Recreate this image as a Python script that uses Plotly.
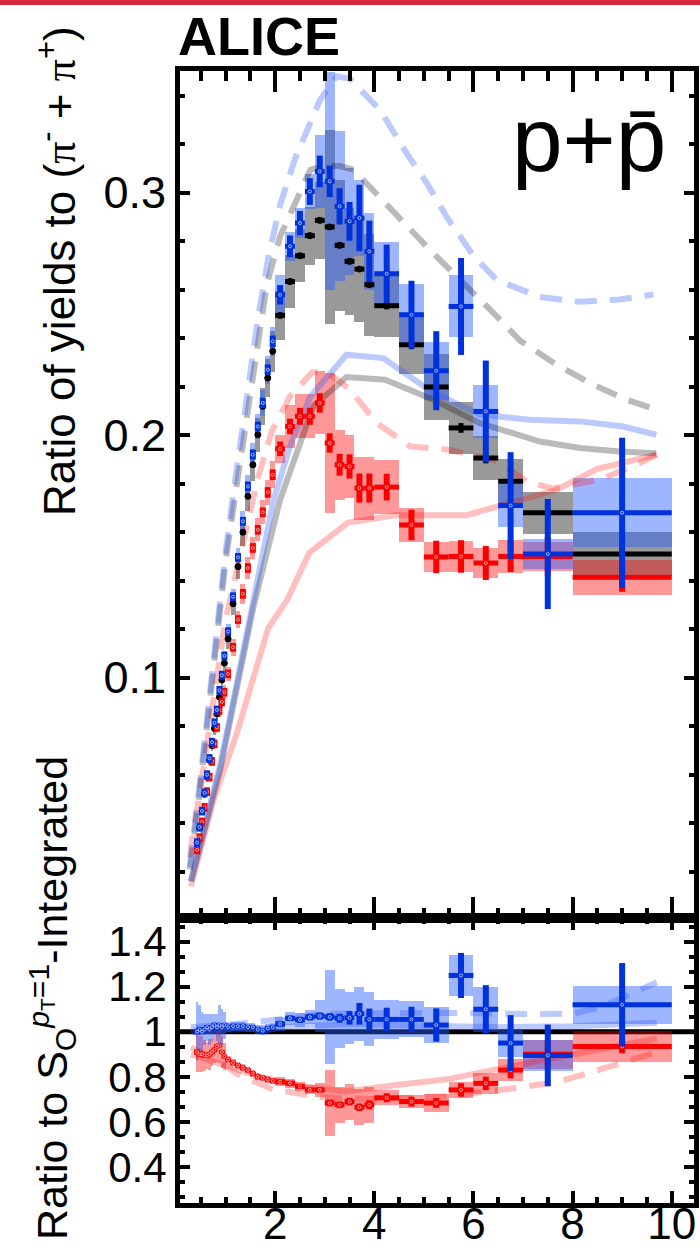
import plotly.graph_objects as go

# ---------------- data ----------------
pt = [0.425, 0.475, 0.525, 0.575, 0.625, 0.675, 0.725, 0.775, 0.825, 0.875, 0.925, 0.975,
      1.05, 1.15, 1.25, 1.35, 1.45, 1.55, 1.65, 1.75, 1.85, 1.95,
      2.1, 2.3, 2.5, 2.7, 2.9, 3.1, 3.3, 3.5, 3.7, 3.9,
      4.25, 4.75, 5.25, 5.75, 6.25, 6.75, 7.5, 9.0]
pt_hw = [0.025] * 12 + [0.05] * 10 + [0.1] * 10 + [0.25] * 6 + [0.5, 1.0]

# S_O integrated (black, reference)
black_val = [0.032, 0.038, 0.045, 0.052, 0.059, 0.066, 0.072, 0.079, 0.085, 0.092, 0.099, 0.106,
             0.116, 0.1305, 0.1458, 0.160, 0.1748, 0.1878, 0.2002, 0.2119, 0.2236, 0.2346,
             0.2494, 0.2634, 0.274, 0.2823, 0.2886, 0.2859, 0.2783, 0.2717, 0.2685, 0.2621,
             0.2534, 0.2373, 0.2199, 0.2030, 0.1906, 0.181, 0.168, 0.151]
black_stat = [0.0006] * 12 + [0.0008] * 10 + [0.0012] * 10 + [0.0015, 0.0018, 0.002, 0.002, 0.0022, 0.0022, 0.0022, 0.0022]
black_sys = [0.0012, 0.0014, 0.0016, 0.0018, 0.002, 0.0022, 0.0024, 0.0026, 0.0028, 0.003, 0.0032, 0.0034,
             0.004, 0.0045, 0.005, 0.0055, 0.006, 0.0065, 0.007, 0.0075, 0.008, 0.0085,
             0.010, 0.011, 0.011, 0.012, 0.016, 0.040, 0.027, 0.022, 0.022, 0.021,
             0.013, 0.012, 0.0135, 0.0107, 0.009, 0.009, 0.0086, 0.009]

# jetty-like (blue)
blue_val = [0.032, 0.0384, 0.045, 0.0525, 0.060, 0.0667, 0.0734, 0.0814, 0.0867, 0.0948, 0.101, 0.109,
            0.119, 0.1334, 0.1496, 0.1645, 0.1789, 0.192, 0.2036, 0.2133, 0.227, 0.2387,
            0.2579, 0.2779, 0.2875, 0.3005, 0.3088, 0.3047, 0.2944, 0.2882, 0.2896, 0.2758,
            0.2666, 0.2497, 0.2266, 0.2531, 0.2098, 0.171, 0.151, 0.168]
blue_stat = [0.0018] * 12 + [0.0018, 0.0018, 0.0018, 0.0018, 0.002, 0.002, 0.002, 0.0022, 0.0022, 0.0024,
             0.004, 0.0045, 0.005, 0.0055, 0.0065, 0.0065, 0.0075, 0.008, 0.0137, 0.0127,
             0.012, 0.014, 0.0163, 0.020, 0.021, 0.022, 0.0227, 0.031]
blue_sys = [0.0008, 0.0009, 0.001, 0.0011, 0.0012, 0.0013, 0.0015, 0.0016, 0.0017, 0.0019, 0.002, 0.0022,
            0.003, 0.0033, 0.0037, 0.0041, 0.0045, 0.0048, 0.0051, 0.0053, 0.0057, 0.006,
            0.008, 0.006, 0.006, 0.0072, 0.015, 0.045, 0.031, 0.022, 0.0155, 0.016,
            0.013, 0.0125, 0.012, 0.0128, 0.011, 0.009, 0.0063, 0.0142]

# isotropic-like (red)
red_val = [0.029, 0.034, 0.0405, 0.0465, 0.053, 0.059, 0.0655, 0.0727, 0.0795, 0.0865, 0.090, 0.094,
           0.1016, 0.1125, 0.124, 0.1346, 0.1452, 0.1535, 0.161, 0.1682, 0.1764, 0.1837,
           0.1944, 0.2036, 0.2078, 0.2078, 0.2133, 0.1968, 0.1878, 0.1871, 0.1782, 0.1782,
           0.1786, 0.163, 0.1498, 0.150, 0.1473, 0.150, 0.150, 0.1414]
red_stat = [0.0018] * 12 + [0.0018, 0.0018, 0.0018, 0.002, 0.002, 0.002, 0.002, 0.002, 0.0022, 0.0022,
            0.003, 0.0032, 0.0035, 0.0035, 0.004, 0.004, 0.0045, 0.005, 0.006, 0.006,
            0.0055, 0.0063, 0.0067, 0.0067, 0.007, 0.0064, 0.008, 0.006]
red_sys = [0.0009, 0.001, 0.0012, 0.0014, 0.0016, 0.0018, 0.002, 0.0022, 0.0024, 0.0026, 0.0027, 0.0028,
           0.003, 0.0034, 0.0037, 0.004, 0.0044, 0.0046, 0.0048, 0.005, 0.0053, 0.0055,
           0.0058, 0.009, 0.009, 0.009, 0.013, 0.029, 0.0145, 0.013, 0.013, 0.013,
           0.011, 0.007, 0.0063, 0.0063, 0.006, 0.0068, 0.006, 0.0073]

# ratios to S_O integrated (bottom panel)
ratio_blue = [1.00, 1.01, 1.00, 1.01, 1.02, 1.01, 1.02, 1.03, 1.02, 1.03, 1.02, 1.03,
              1.02, 1.025, 1.025, 1.025, 1.02, 1.02, 1.01, 1.005, 1.015, 1.02,
              1.035, 1.06, 1.053, 1.065, 1.07, 1.066, 1.06, 1.062, 1.08, 1.055,
              1.055, 1.055, 1.03, 1.25, 1.10, 0.95, 0.895, 1.12]
ratio_blue_stat = [0.012, 0.012, 0.011, 0.011, 0.01, 0.01, 0.01, 0.01, 0.009, 0.009, 0.009, 0.009,
                   0.007, 0.007, 0.007, 0.007, 0.007, 0.007, 0.008, 0.008, 0.008, 0.008,
                   0.012, 0.013, 0.014, 0.015, 0.016, 0.017, 0.02, 0.03, 0.048, 0.048,
                   0.052, 0.056, 0.074, 0.10, 0.107, 0.124, 0.137, 0.185]
ratio_blue_sys = [0.13, 0.11, 0.09, 0.07, 0.06, 0.07, 0.06, 0.05, 0.06, 0.09, 0.08, 0.06,
                  0.02, 0.02, 0.02, 0.02, 0.02, 0.02, 0.02, 0.02, 0.02, 0.02,
                  0.03, 0.03, 0.03, 0.03, 0.07, 0.21, 0.13, 0.115, 0.12, 0.12,
                  0.085, 0.08, 0.078, 0.093, 0.10, 0.06, 0.067, 0.084]
ratio_red = [0.91, 0.90, 0.90, 0.895, 0.895, 0.90, 0.91, 0.92, 0.935, 0.94, 0.91, 0.89,
             0.876, 0.862, 0.85, 0.84, 0.83, 0.815, 0.80, 0.795, 0.787, 0.782,
             0.778, 0.772, 0.757, 0.742, 0.742, 0.684, 0.676, 0.69, 0.665, 0.676,
             0.707, 0.69, 0.684, 0.742, 0.771, 0.83, 0.90, 0.935]
ratio_red_stat = [0.012, 0.012, 0.011, 0.011, 0.01, 0.01, 0.01, 0.01, 0.009, 0.009, 0.009, 0.009,
                  0.007, 0.007, 0.007, 0.007, 0.007, 0.007, 0.008, 0.008, 0.008, 0.008,
                  0.01, 0.01, 0.01, 0.01, 0.012, 0.015, 0.015, 0.017, 0.017, 0.02,
                  0.02, 0.022, 0.022, 0.03, 0.03, 0.037, 0.06, 0.03]
ratio_red_sys = [0.09, 0.08, 0.08, 0.07, 0.06, 0.07, 0.06, 0.06, 0.07, 0.08, 0.07, 0.06,
                 0.015, 0.015, 0.015, 0.015, 0.015, 0.015, 0.015, 0.015, 0.015, 0.015,
                 0.02, 0.02, 0.02, 0.02, 0.03, 0.145, 0.08, 0.08, 0.08, 0.08,
                 0.033, 0.03, 0.04, 0.037, 0.048, 0.048, 0.063, 0.067]

# model curves (top panel)
dash_blue_x = [0.28, 0.35, 0.45, 0.52, 0.62, 0.72, 0.79, 0.86, 1.0, 1.19, 1.29, 1.43, 1.53, 1.66, 1.86,
               2.1, 2.4, 2.9, 3.24, 3.51, 4.12, 4.66, 5.06, 5.46, 6.0, 6.47, 7.34, 8.15, 8.95, 9.63]
dash_blue_y = [0.022, 0.033, 0.050, 0.064, 0.082, 0.100, 0.114, 0.128, 0.152, 0.181, 0.196, 0.215, 0.230, 0.249, 0.273,
               0.295, 0.314, 0.338, 0.348, 0.347, 0.334, 0.316, 0.304, 0.290, 0.274, 0.264, 0.257, 0.255, 0.256, 0.258]
dash_gray_x = [0.28, 0.35, 0.45, 0.62, 0.79, 1.0, 1.2, 1.43, 1.66, 1.83, 2.1, 2.37, 2.71, 3.0, 3.3, 3.58,
               4.18, 4.72, 5.19, 5.8, 6.4, 6.94, 7.61, 8.35, 9.09, 9.7]
dash_gray_y = [0.021, 0.031, 0.048, 0.079, 0.111, 0.148, 0.176, 0.208, 0.240, 0.262, 0.282, 0.294, 0.3095, 0.311, 0.311, 0.3095,
               0.297, 0.285, 0.275, 0.263, 0.2505, 0.239, 0.230, 0.2215, 0.2146, 0.2105]
dash_red_x = [0.28, 0.35, 0.49, 0.62, 0.76, 0.89, 0.99, 1.2, 1.45, 1.66, 1.94, 2.3, 2.75, 3.05, 3.5, 4.05,
              4.72, 5.5, 6.4, 7.07, 7.6, 8.6, 9.36, 9.7]
dash_red_y = [0.026, 0.037, 0.054, 0.072, 0.090, 0.109, 0.123, 0.142, 0.165, 0.183, 0.202, 0.216, 0.226, 0.226, 0.219, 0.205,
              0.1954, 0.194, 0.190, 0.181, 0.178, 0.182, 0.1885, 0.192]
solid_blue_x = [0.3, 0.89, 1.16, 1.43, 1.56, 1.97, 2.3, 2.71, 3.44, 4.18, 5.19, 6.13, 7.14, 8.15, 9.02, 9.69]
solid_blue_y = [0.016, 0.064, 0.091, 0.119, 0.132, 0.1735, 0.1955, 0.216, 0.2332, 0.2318, 0.2175, 0.2085, 0.2064, 0.2057, 0.2036, 0.2002]
solid_gray_x = [0.3, 0.89, 1.16, 1.43, 1.56, 2.1, 2.77, 3.44, 4.22, 5.19, 6.13, 7.34, 8.15, 8.95, 9.69]
solid_gray_y = [0.016, 0.062, 0.089, 0.116, 0.129, 0.1734, 0.2119, 0.224, 0.2229, 0.2146, 0.205, 0.1974, 0.1947, 0.1933, 0.1926]
solid_red_x = [0.3, 0.76, 1.23, 1.86, 2.24, 2.69, 3.47, 4.43, 5.86, 7.27, 7.68, 8.49, 9.69]
solid_red_y = [0.014, 0.0498, 0.0773, 0.1205, 0.132, 0.1516, 0.164, 0.167, 0.167, 0.1748, 0.1775, 0.186, 0.192]

# model curves (ratio panel)
rdash_blue_x = [0.3, 1.5, 3.0, 4.5, 5.5, 7.0, 8.0, 8.6, 9.4, 9.7]
rdash_blue_y = [1.02, 1.04, 1.08, 1.085, 1.084, 1.079, 1.08, 1.11, 1.19, 1.22]
rdash_red_x = [0.3, 0.6, 1.0, 1.25, 1.95, 2.95, 4.0, 5.5, 6.85, 7.7, 8.4, 9.2, 9.7]
rdash_red_y = [0.93, 0.90, 0.85, 0.81, 0.745, 0.71, 0.70, 0.715, 0.75, 0.778, 0.822, 0.876, 0.91]
rsolid_blue_x = [0.3, 1.0, 2.0, 3.5, 5.0, 6.5, 8.0, 9.7]
rsolid_blue_y = [1.0, 1.01, 1.02, 1.035, 1.03, 1.02, 1.025, 1.04]
rsolid_red_x = [0.3, 1.0, 1.7, 2.5, 3.4, 4.5, 5.5, 6.9, 8.5, 9.7]
rsolid_red_y = [0.90, 0.85, 0.80, 0.76, 0.735, 0.765, 0.79, 0.853, 0.92, 0.97]

# ---------------- styles ----------------
FONT = "Liberation Sans, Arial, Helvetica, sans-serif"
C_BLUE = "rgb(0,50,220)"
C_RED = "rgb(250,0,0)"
C_BLACK = "black"
BOX_GRAY = "rgba(0,0,0,0.40)"
BOX_RED = "rgba(255,0,0,0.40)"
BOX_BLUE = "rgba(40,90,255,0.45)"
L_BLUE = "rgba(50,90,250,0.33)"
L_RED = "rgba(255,0,0,0.25)"
L_GRAY = "rgba(0,0,0,0.27)"
DASH = "22px,13px"

fig = go.Figure()


def boxes(vals, sys, color, xa, ya):
    return go.Bar(x=pt, y=[2 * s for s in sys], base=[v - s for v, s in zip(vals, sys)],
                  width=[2 * h for h in pt_hw], marker=dict(color=color, line=dict(width=0)),
                  xaxis=xa, yaxis=ya, showlegend=False, hoverinfo="skip")


def line(x, y, color, dash, xa, ya, w=6):
    return go.Scatter(x=x, y=y, mode="lines", line=dict(color=color, width=w, dash=dash),
                      xaxis=xa, yaxis=ya, showlegend=False, hoverinfo="skip")


def points(vals, stat, color, xa, ya, msym="circle-open", msize=3, mcol="#a9b9ff", vthick=6):
    return go.Scatter(x=pt, y=vals, mode="markers",
                      error_y=dict(type="data", array=stat, thickness=vthick, width=0, color=color),
                      error_x=dict(type="data", array=pt_hw, thickness=5, width=0, color=color),
                      marker=dict(symbol=msym, size=msize, color=mcol, line=dict(width=1, color=mcol)),
                      xaxis=xa, yaxis=ya, showlegend=False, hoverinfo="skip")


# top panel
fig.add_trace(boxes(black_val, black_sys, BOX_GRAY, "x", "y"))
fig.add_trace(boxes(red_val, red_sys, BOX_RED, "x", "y"))
fig.add_trace(boxes(blue_val, blue_sys, BOX_BLUE, "x", "y"))
fig.add_trace(line(solid_red_x, solid_red_y, L_RED, "solid", "x", "y"))
fig.add_trace(line(solid_gray_x, solid_gray_y, L_GRAY, "solid", "x", "y"))
fig.add_trace(line(solid_blue_x, solid_blue_y, L_BLUE, "solid", "x", "y"))
fig.add_trace(line(dash_red_x, dash_red_y, L_RED, DASH, "x", "y"))
fig.add_trace(line(dash_gray_x, dash_gray_y, L_GRAY, DASH, "x", "y"))
fig.add_trace(line(dash_blue_x, dash_blue_y, L_BLUE, DASH, "x", "y"))
fig.add_trace(points(black_val, black_stat, C_BLACK, "x", "y", msym="circle", msize=6, mcol="black", vthick=5))
fig.add_trace(points(red_val, red_stat, C_RED, "x", "y", mcol="#ff9a9a"))
fig.add_trace(points(blue_val, blue_stat, C_BLUE, "x", "y"))

# ratio panel
fig.add_trace(boxes(ratio_red, ratio_red_sys, BOX_RED, "x2", "y2"))
fig.add_trace(boxes(ratio_blue, ratio_blue_sys, BOX_BLUE, "x2", "y2"))
fig.add_trace(line(rsolid_red_x, rsolid_red_y, L_RED, "solid", "x2", "y2"))
fig.add_trace(line(rsolid_blue_x, rsolid_blue_y, L_BLUE, "solid", "x2", "y2"))
fig.add_trace(line(rdash_red_x, rdash_red_y, L_RED, DASH, "x2", "y2"))
fig.add_trace(line(rdash_blue_x, rdash_blue_y, L_BLUE, DASH, "x2", "y2"))
fig.add_trace(points(ratio_red, ratio_red_stat, C_RED, "x2", "y2", mcol="#ff9a9a"))
fig.add_trace(points(ratio_blue, ratio_blue_stat, C_BLUE, "x2", "y2"))

SPLIT = 285 / 1132

axis_common = dict(showline=True, linewidth=5, linecolor="black", mirror="ticks",
                   ticks="inside", tickwidth=4, tickcolor="black", showgrid=False, zeroline=False,
                   automargin=False)

fig.update_layout(
    width=700, height=1250,
    margin=dict(l=180, r=6, t=71, b=47, autoexpand=False),
    paper_bgcolor="white", plot_bgcolor="white",
    barmode="overlay", bargap=0, showlegend=False,
    font=dict(family=FONT, color="black"),
    xaxis=dict(domain=[0, 1], range=[0.08, 10.45], anchor="y", showticklabels=False,
               dtick=2, tick0=0, ticklen=21,
               minor=dict(ticks="inside", ticklen=10, tickwidth=4, tickcolor="black", dtick=0.5, tick0=0),
               **axis_common),
    yaxis=dict(domain=[SPLIT, 1], range=[0.0009, 0.3502], anchor="x",
               tickvals=[0.1, 0.2, 0.3], ticktext=["0.1", "0.2", "0.3"], ticklen=10,
               tickfont=dict(family=FONT, size=45, color="black"),
               minor=dict(ticks="inside", ticklen=5, tickwidth=4, tickcolor="black", dtick=0.02, tick0=0),
               **axis_common),
    xaxis2=dict(domain=[0, 1], range=[0.08, 10.45], anchor="y2", matches="x",
                tickvals=[2, 4, 6, 8, 10], ticktext=["2", "4", "6", "8", "10"], ticklen=12,
                ticklabelstandoff=-22,
                tickfont=dict(family=FONT, size=44, color="black"),
                minor=dict(ticks="inside", ticklen=6, tickwidth=4, tickcolor="black", dtick=0.5, tick0=0),
                **axis_common),
    yaxis2=dict(domain=[0, SPLIT], range=[0.24, 1.505], anchor="x2",
                tickvals=[0.4, 0.6, 0.8, 1.0, 1.2, 1.4], ticktext=["0.4", "0.6", "0.8", "1", "1.2", "1.4"],
                ticklen=10, tickfont=dict(family=FONT, size=42, color="black"),
                minor=dict(ticks="inside", ticklen=5, tickwidth=4, tickcolor="black", dtick=0.2 / 3, tick0=0.4),
                **axis_common),
)

# reference line at ratio = 1
fig.add_shape(type="line", xref="x2 domain", yref="y2", x0=0, x1=1, y0=1, y1=1,
              line=dict(color="black", width=5), layer="below")

# top red strip
fig.add_shape(type="rect", xref="paper", yref="paper", x0=-0.4, x1=1.05,
              y0=(1203 - 5) / 1132, y1=(1203 + 2) / 1132,
              line=dict(width=0), fillcolor="rgb(214,40,62)")

fig.add_annotation(text="<b>ALICE</b>", xref="paper", yref="paper", x=0, y=1,
                   xanchor="left", yanchor="bottom", xshift=-4, yshift=3, showarrow=False,
                   font=dict(family=FONT, size=54, color="black"))
fig.add_annotation(text="p+p\u0304", xref="paper", yref="paper", x=1, y=1,
                   xanchor="right", yanchor="top", xshift=-26, yshift=-16, showarrow=False,
                   font=dict(family=FONT, size=91, color="black"))

PI = "<span style='font-family:Liberation Serif, DejaVu Serif, serif'>\u03c0</span>"
fig.add_annotation(text="Ratio of yields to (" + PI + "<sup>-</sup> + " + PI + "<sup>+</sup>)",
                   xref="paper", yref="paper", x=0, y=(1203 - 271) / 1132,
                   xanchor="center", yanchor="middle", xshift=-123, textangle=-90, showarrow=False,
                   font=dict(family=FONT, size=44, color="black"))
fig.add_annotation(text="Ratio to S<sub>O</sub><sup><i>p</i><sub>T</sub>=1</sup>-Integrated",
                   xref="paper", yref="paper", x=0, y=(1203 - 998) / 1132,
                   xanchor="center", yanchor="middle", xshift=-128, textangle=-90, showarrow=False,
                   font=dict(family=FONT, size=43, color="black"))

fig.write_html("out.html")
